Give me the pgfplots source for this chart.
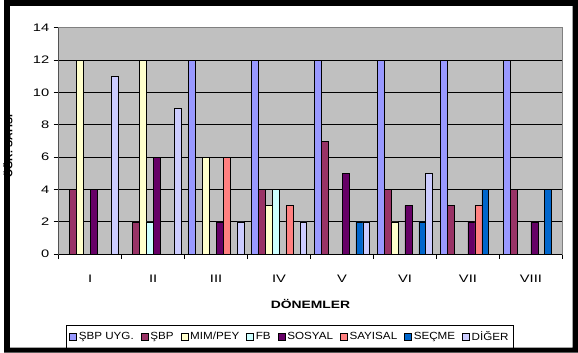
\documentclass[border=0pt]{standalone}
\usepackage{fontspec}
\setmainfont{Liberation Sans}
\newfontfamily\tickfont[FakeStretch=1.35]{Liberation Sans}
\newfontfamily\legfont[FakeStretch=1.12]{Liberation Sans}
\newfontfamily\labfont[FakeStretch=1.3]{Liberation Sans}
\usepackage{pgfplots}
\pgfplotsset{compat=1.18}
\definecolor{cA}{HTML}{9999FF}
\definecolor{cB}{HTML}{993366}
\definecolor{cC}{HTML}{FFFFCC}
\definecolor{cD}{HTML}{CCFFFF}
\definecolor{cE}{HTML}{660066}
\definecolor{cF}{HTML}{FF8080}
\definecolor{cG}{HTML}{0066CC}
\definecolor{cH}{HTML}{CCCCFF}
\definecolor{bggray}{HTML}{C0C0C0}
\definecolor{bordergray}{HTML}{808080}
\pgfplotsset{sqlegend/.style={legend image code/.code={\draw[##1,draw=black,line width=0.7bp] (0bp,-3.5bp) rectangle (7bp,3.5bp);}}}
\begin{document}
\begin{tikzpicture}
\fill[white] (0bp,0bp) rectangle (578bp,355bp);
\begin{axis}[
  at={(55bp,99bp)}, anchor=south west,
  scale only axis, width=507.3bp, height=228bp,
  xmin=-0.5, xmax=7.5, ymin=0, ymax=14,
  ybar=0pt, bar width=7bp,
  ytick={0,2,...,14},
  ymajorgrids, grid style={black, line width=0.8bp},
  xtick={-0.5,0.5,...,7.5}, xticklabels={},
  extra x ticks={0,1,2,3,4,5,6,7},
  extra x tick labels={I,II,III,IV,V,VI,VII,VIII},
  extra x tick style={major tick length=0pt, grid=none, tick label style={yshift=-17bp}},
  tick align=outside, tick pos=left, major tick length=5bp,
  tick style={black, line width=0.8bp},
  axis background/.style={fill=bggray},
  axis line style={draw=bordergray, line width=0.8bp},
  /pgf/number format/assume math mode=true,
  tick label style={font=\tickfont\fontsize{11}{12}\selectfont},
  yticklabel style={xshift=-1bp},
  xlabel={\textbf{DÖNEMLER}},
  xlabel style={font=\labfont\fontsize{10.8}{12}\selectfont, yshift=-6bp},
  every axis plot post/.append style={draw=black, line width=0.7bp, sqlegend},
  legend style={at={(0.459,-0.365)}, anchor=center, legend columns=8,
    draw=black, line width=0.7bp, font=\legfont\fontsize{10.5}{12}\selectfont,
    inner xsep=3bp, inner ysep=4.5bp,
    /tikz/every even column/.append style={column sep=5bp}},
  legend cell align=left,
]
\addplot[fill=cA] coordinates {(0,0) (1,0) (2,12) (3,12) (4,12) (5,12) (6,12) (7,12)};
\addplot[fill=cB] coordinates {(0,4) (1,2) (2,0) (3,4) (4,7) (5,4) (6,3) (7,4)};
\addplot[fill=cC] coordinates {(0,12) (1,12) (2,6) (3,3) (4,0) (5,2) (6,0) (7,0)};
\addplot[fill=cD] coordinates {(0,0) (1,2) (2,0) (3,4) (4,0) (5,0) (6,0) (7,0)};
\addplot[fill=cE] coordinates {(0,4) (1,6) (2,2) (3,0) (4,5) (5,3) (6,2) (7,2)};
\addplot[fill=cF] coordinates {(0,0) (1,0) (2,6) (3,3) (4,0) (5,0) (6,3) (7,0)};
\addplot[fill=cG] coordinates {(0,0) (1,0) (2,0) (3,0) (4,2) (5,2) (6,4) (7,4)};
\addplot[fill=cH] coordinates {(0,11) (1,9) (2,2) (3,2) (4,2) (5,5) (6,0) (7,0)};
\legend{ŞBP UYG.,ŞBP,MIM/PEY,FB,SOSYAL,SAYISAL,SEÇME,DİĞER}
\draw[black, line width=0.8bp] (rel axis cs:0,1) -- (rel axis cs:0,0) -- (rel axis cs:1,0);
\end{axis}
\node[rotate=90, anchor=base, font=\bfseries\fontsize{10.5}{12}\selectfont] at (8.5bp,208bp) {ÖĞR. SAYISI};
\fill[black, even odd rule] (0bp,0bp) rectangle (578bp,355bp) (6bp,5bp) rectangle (572.5bp,349bp);
\end{tikzpicture}
\end{document}
